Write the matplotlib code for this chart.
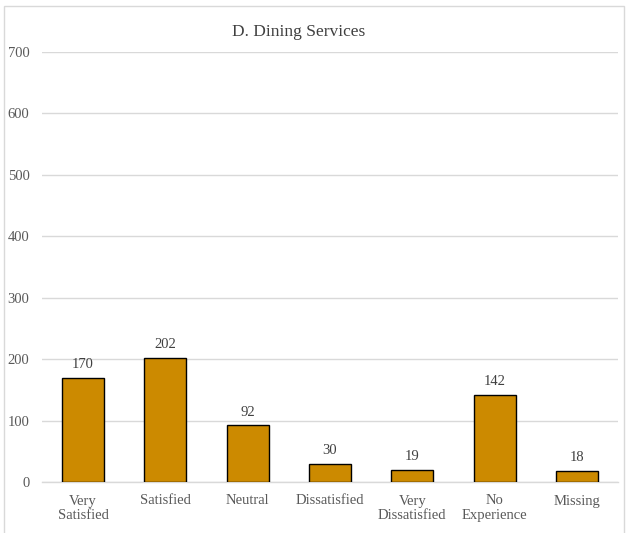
import matplotlib
matplotlib.use("Agg")
import matplotlib.pyplot as plt
from matplotlib.patches import Rectangle

categories = ["Very\nSatisfied", "Satisfied", "Neutral", "Dissatisfied",
              "Very\nDissatisfied", "No\nExperience", "Missing"]
values = [170, 202, 92, 30, 19, 142, 18]
yticks = [0, 100, 200, 300, 400, 500, 600, 700]
title = "D. Dining Services"

plt.rcParams['font.family'] = ['Liberation Serif', 'DejaVu Serif']

W, H = 629, 533
fig = plt.figure(figsize=(W/100, H/100), dpi=100)
l, r, b, t = 42, 618, 482, 52
ax = fig.add_axes([l/W, 1-b/H, (r-l)/W, (b-t)/H])

x = list(range(len(categories)))
bars = ax.bar(x, values, width=0.51, color="#CC8A00", edgecolor="black", linewidth=1.0, zorder=3)
for xi, v in zip(x, values):
    ax.annotate(str(v), (xi, v), xytext=(0, 5), textcoords="offset points",
                ha="center", va="bottom", fontsize=10.5, color="#404040")

ax.set_xlim(-0.5, len(categories)-0.5)
ax.set_ylim(0, 700)
ax.set_yticks(yticks)
ax.set_yticklabels([str(v) for v in yticks], fontsize=10.5, color="#595959")
ax.set_xticks(x)
ax.set_xticklabels(categories, fontsize=10.5, color="#595959", linespacing=1.15)
ax.tick_params(axis="x", length=0, pad=9)
ax.tick_params(axis="y", length=0, pad=9)
ax.grid(axis="y", color="#D9D9D9", linewidth=1.0, zorder=0)
for s in ["top", "right", "left"]:
    ax.spines[s].set_visible(False)
ax.spines["bottom"].set_color("#D9D9D9")
ax.spines["bottom"].set_linewidth(1.0)

fig.text(299/W, 1-32/H, title, ha="center", va="center", fontsize=12.5, color="#404040")

fig.patches.append(Rectangle((4/W, -0.01), (624-4)/W, 1-6/H+0.01, transform=fig.transFigure,
                             fill=False, edgecolor="#D9D9D9", linewidth=1.0))

fig.savefig("out.png", dpi=100)
